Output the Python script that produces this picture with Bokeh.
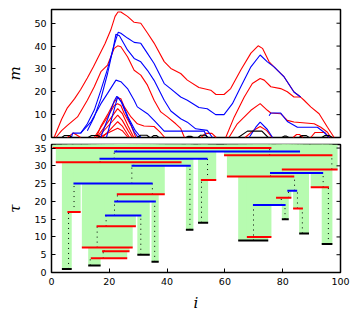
from bokeh.plotting import figure
from bokeh.layouts import column
from bokeh.models import Range1d, FixedTicker, ColumnDataSource
from bokeh.embed import file_html
from bokeh.resources import INLINE

# ---------------- data ----------------
i_ticks = [0, 20, 40, 60, 80, 100]
m_ticks = [0, 10, 20, 30, 40, 50]
tau_ticks = [0, 5, 10, 15, 20, 25, 30, 35]

# bottom panel: bars (one per tau level)
bar_tau = list(range(1, 36))
bar_start = [3.6, 12.7, 34.6, 13.6, 29.7, 17.5, 10.5, 93.5, 64.6, 67.6, 85.7, 46.5, 15.6, 50.7, 79.7,
             18.5, 5.5, 83.6, 69.7, 21.7, 77.7, 22.6, 81.6, 89.7, 7.6, 51.7, 60.7, 75.6, 79.7, 27.7,
             1.5, 16.6, 59.7, 21.7, 0.4]
bar_end = [7.0, 17.0, 37.1, 26.2, 34.0, 27.0, 28.1, 97.2, 75.0, 76.1, 89.1, 49.1, 29.2, 54.2, 82.1,
           31.1, 10.1, 87.0, 81.0, 36.1, 83.0, 39.2, 85.0, 96.0, 35.0, 57.0, 84.0, 94.0, 99.0, 48.2,
           45.0, 54.0, 97.2, 86.0, 76.1]
bar_color = ["black", "black", "black", "red", "black", "red", "red", "black", "black", "red",
             "black", "black", "red", "black", "black", "blue", "red", "red", "blue", "blue",
             "red", "red", "blue", "red", "blue", "red", "red", "blue", "red", "blue",
             "red", "blue", "red", "blue", "red"]

# dotted links between levels
dot_i = [5.9, 7.8, 13.4, 17.9, 18.2, 15.8, 18.9, 21.8, 22.8, 34.9, 27.8, 30.9, 35.7, 47.9, 28.5,
         16.8, 21.7, 22.5, 51.9, 54.0, 69.9, 80.8, 79.5, 82.0, 84.1, 86.8, 85.1, 95.8, 94.0, 75.8,
         80.0, 97.0, 75.5]
dot_from = [1, 17, 2, 4, 6, 7, 13, 16, 20, 22, 25, 5, 3, 12, 30,
            31, 32, 34, 14, 26, 9, 15, 19, 21, 23, 11, 18, 8, 24, 27,
            28, 29, 33]
dot_to = [17, 25, 4, 6, 7, 13, 16, 20, 22, 25, 30, 16, 20, 30, 31,
          32, 34, 35, 26, 32, 19, 19, 21, 23, 27, 18, 23, 24, 28, 28,
          29, 33, 35]

# top panel curves m(i)
curve_color = []
curve_i = []
curve_m = []

def add(c, xs, ys):
    curve_color.append(c); curve_i.append(xs); curve_m.append(ys)

# red curves
add("red", [0.9, 3.5, 5.5, 8.0, 10.1, 12.4, 14.5, 16.5, 18.5, 20.5, 22.0, 23.0, 24.0, 26.3, 28.6, 30.9,
            33.2, 35.5, 39.0, 41.3, 44.7, 47.0, 51.0, 55.1, 56.9, 59.7, 62.0, 65.5, 69.0, 71.5, 73.0,
            75.3, 77.0, 80.5, 83.9, 86.2, 87.4, 89.7, 92.6, 95.5, 97.8],
    [0, 8, 13, 17, 21, 26, 31, 36, 41, 47, 53, 54.9, 54.9, 53, 50.4, 50, 45.7, 41.3, 33.2, 30.2, 28,
     25.1, 21.9, 20.7, 18.8, 18.8, 21.4, 29.5, 36.9, 40.1, 39, 33.1, 30.9, 26.5, 19.9, 17.7, 16.3,
     13.4, 10.4, 4.5, 0])
add("red", [1.5, 3.5, 5.5, 9.0, 12.4, 14.8, 17.1, 19.4, 21.7, 22.9, 24.0, 26.3, 28.6, 30.9, 33.2, 35.5,
            37.8, 40.1, 43.0, 44.7, 46.0],
    [0, 3, 5.3, 9, 16.3, 22.2, 28.8, 31.7, 39, 40.1, 39.7, 35.3, 29.4, 27.3, 22.9, 16.3, 11.2, 9, 6, 4, 0])
add("red", [15.5, 17.1, 19.4, 21.7, 22.9, 24.0, 25.2, 27.5, 29.7, 32.0, 35.5, 37.5, 39.2],
    [0, 5, 10, 15.5, 17.5, 17, 13.4, 9, 6, 5, 4.8, 2.5, 0])
add("red", [14.8, 17.1, 19.4, 21.7, 22.9, 24.0, 25.2, 27.5, 29.2], [0, 4.5, 9, 14, 14.8, 14, 10.4, 5.3, 0])
add("red", [15.6, 18.0, 20.5, 22.9, 24.5, 26.5, 28.5], [0, 4, 8.5, 12.6, 10.5, 5, 0])
add("red", [16.0, 18.5, 21.0, 22.9, 24.5, 26.5, 28.0], [0, 3.5, 7, 9.8, 7.5, 3, 0])
add("red", [17.5, 20.0, 22.9, 24.5, 27.0], [0, 3, 6.9, 5, 0])
add("red", [16.5, 19.5, 22.9, 24.5, 26.5], [0, 2, 4, 3, 0])
add("red", [5.5, 7.6, 10.1], [0, 2, 0])
add("red", [51.7, 53.3, 55.5, 57.0], [0, 1.8, 1.8, 0])
add("red", [60.3, 63.2, 66.7, 69.5, 72.2, 73.6, 75.9, 79.3, 81.6, 83.9, 86.2],
    [0, 8.9, 17.7, 23.6, 25.8, 25.1, 22.2, 21.4, 20, 17.7, 17.7])
add("red", [61.4, 64.3, 69.0, 72.2, 74.7, 75.9, 79.3, 81.6, 83.9, 90.9, 93.2, 95.5, 96.6],
    [0, 6, 11.9, 14.8, 11.9, 10.7, 10.4, 7.5, 6.8, 6, 4.5, 2.3, 0])
add("red", [67.0, 70.0, 72.2, 74.5, 76.3], [0, 3.2, 4.8, 3, 0])
add("red", [83.6, 84.8, 85.8, 87.0], [0, 1.3, 1.3, 0])
add("red", [89.7, 91.2, 94.5, 96.0], [0, 2.2, 2.2, 0])
# blue curves
add("blue", [10.1, 12.4, 14.8, 17.1, 19.4, 21.7, 23.1, 24.0, 26.3, 28.6, 30.9, 33.2, 35.5, 39.0, 41.3,
             44.7, 47.0, 51.0, 53.9, 56.8, 59.7, 62.6, 65.5, 69.0, 72.2, 74.7, 77.0, 80.5, 83.9, 86.2],
    [1.9, 6, 12, 20.7, 30, 40.5, 46.1, 45.6, 43.5, 41.6, 41.2, 36.8, 32.4, 23.6, 21.3, 17.7, 16.3,
     13.1, 12.6, 10, 10, 14.8, 22.2, 30.9, 36.1, 33.1, 30.9, 26.5, 19.9, 17.7])
add("blue", [12.4, 14.8, 17.1, 19.4, 21.5, 22.3, 23.5, 26.3, 28.6, 30.9, 33.2, 35.5, 39.0, 41.3, 44.7,
             47.0, 49.9, 53.9, 55.7],
    [3, 9, 17, 28, 40, 45.2, 44.5, 38.3, 34.6, 33.1, 29.4, 25, 16.3, 11.6, 8.2, 6.7, 3.8, 3.1, 0])
add("blue", [6.9, 7.3, 10.1, 13.6, 17.1, 19.4, 22.3, 24.0, 26.3, 28.6, 29.7, 33.2, 35.5, 39.0, 52.8, 53.9],
    [0, 1.9, 1.9, 6.7, 14.8, 19.3, 25.1, 24.4, 21.4, 16.3, 13.4, 10.4, 7.5, 2.8, 2.8, 0])
add("blue", [17.0, 19.4, 21.7, 22.6, 24.0, 26.3, 28.6, 30.0], [0, 8, 16, 18, 16, 9, 2.5, 0])
add("blue", [19.0, 21.2, 22.9, 24.5, 26.5, 29.0, 31.0], [0, 10, 17.8, 15, 9, 3, 0])
add("blue", [68.4, 70.7, 72.2, 74.7, 76.5], [0, 4.5, 6.7, 3.5, 0])
add("blue", [75.3, 75.9, 79.3, 81.6, 85.1, 92.0, 94.3, 96.1], [9.5, 10.7, 10.7, 7, 4.5, 4.5, 2.3, 0])
# black curves
add("black", [3.6, 4.5, 6.2, 7.0], [0, 0.9, 0.9, 0])
add("black", [12.7, 13.8, 16.0, 17.0], [0, 0.9, 0.9, 0])
add("black", [29.7, 30.8, 33.0, 34.0], [0, 1, 1, 0])
add("black", [34.6, 35.3, 36.4, 37.1], [0, 0.8, 0.8, 0])
add("black", [46.5, 47.3, 48.3, 49.1], [0, 0.5, 0.5, 0])
add("black", [50.7, 51.6, 53.3, 54.2], [0, 1, 1, 0])
add("black", [64.6, 67.8, 72.8, 75.0], [0, 2.8, 2.8, 0])
add("black", [79.7, 80.5, 81.3, 82.1], [0, 0.6, 0.6, 0])
add("black", [85.7, 86.6, 88.2, 89.1], [0, 0.8, 0.8, 0])
add("black", [93.5, 94.5, 96.2, 97.2], [0, 0.8, 0.8, 0])

I_MIN, I_MAX = 0, 100
M_MIN, M_MAX = 0, 56
TAU_MIN, TAU_MAX = 0, 36

GREEN = "#b7fbb0"
TICK_FONT = "9.5px"
LABEL_FONT = "15px"
FRAME_W = 289
FRAME_H = 128
TICK_PX = 4


def style(p, yticks, ylabel, show_x, y_max):
    p.outline_line_color = "black"
    p.outline_line_width = 1.5
    p.outline_line_alpha = 1.0
    p.xgrid.visible = False
    p.ygrid.visible = False
    p.background_fill_color = "white"
    p.border_fill_color = "white"
    for ax in (p.xaxis[0], p.yaxis[0]):
        ax.axis_line_color = None
        ax.major_tick_in = TICK_PX
        ax.major_tick_out = 0
        ax.minor_tick_line_color = None
        ax.major_tick_line_color = "black"
        ax.major_label_text_font = "DejaVu Sans"
        ax.major_label_text_font_size = TICK_FONT
        ax.major_label_text_color = "black"
        ax.major_label_standoff = 5
        ax.axis_label_text_font = "DejaVu Serif"
        ax.axis_label_text_font_style = "italic"
        ax.axis_label_text_font_size = LABEL_FONT
        ax.axis_label_text_color = "black"
    p.xaxis[0].ticker = FixedTicker(ticks=i_ticks)
    p.yaxis[0].ticker = FixedTicker(ticks=yticks)
    p.yaxis[0].axis_label = ylabel
    p.yaxis[0].axis_label_standoff = 7
    if show_x:
        p.xaxis[0].axis_label = "i"
        p.xaxis[0].axis_label_standoff = 6
    else:
        p.xaxis[0].visible = False
    # mirrored (inward) ticks on the right edge, from the same tick list
    tick_len = TICK_PX * (I_MAX - I_MIN) / FRAME_W
    p.segment(x0=[I_MAX] * len(yticks), x1=[I_MAX - tick_len] * len(yticks),
              y0=yticks, y1=yticks, line_color="black", line_width=1)


# ---------------- top panel ----------------
p1 = figure(frame_width=FRAME_W, frame_height=FRAME_H,
            x_range=Range1d(I_MIN, I_MAX), y_range=Range1d(M_MIN, M_MAX),
            output_backend="svg", toolbar_location=None,
            min_border_left=51, min_border_right=10, min_border_top=9, min_border_bottom=5)
style(p1, m_ticks, "m", False, M_MAX)
src_c = ColumnDataSource(dict(xs=curve_i, ys=curve_m, color=curve_color))
p1.multi_line(xs="xs", ys="ys", line_color="color", line_width=1.1, source=src_c)

# ---------------- bottom panel ----------------
p2 = figure(frame_width=FRAME_W, frame_height=FRAME_H,
            x_range=Range1d(I_MIN, I_MAX), y_range=Range1d(TAU_MIN, TAU_MAX),
            output_backend="svg", toolbar_location=None,
            min_border_left=51, min_border_right=10, min_border_top=2, min_border_bottom=40)

src_b = ColumnDataSource(dict(a=bar_start, b=bar_end, tau=bar_tau, color=bar_color,
                              top=[TAU_MAX] * len(bar_tau)))
p2.quad(left="a", right="b", bottom="tau", top="top", fill_color=GREEN, line_color=None, source=src_b)
src_d = ColumnDataSource(dict(x=dot_i, y0=dot_from, y1=dot_to))
p2.segment(x0="x", y0="y0", x1="x", y1="y1", line_color="black", line_width=1,
           line_dash="1 4", source=src_d)
p2.segment(x0="a", y0="tau", x1="b", y1="tau", line_color="color", line_width=2, source=src_b)
style(p2, tau_ticks, "τ", True, TAU_MAX)

layout = column(p1, p2, spacing=0)
open("out.html", "w").write(file_html(layout, INLINE))
